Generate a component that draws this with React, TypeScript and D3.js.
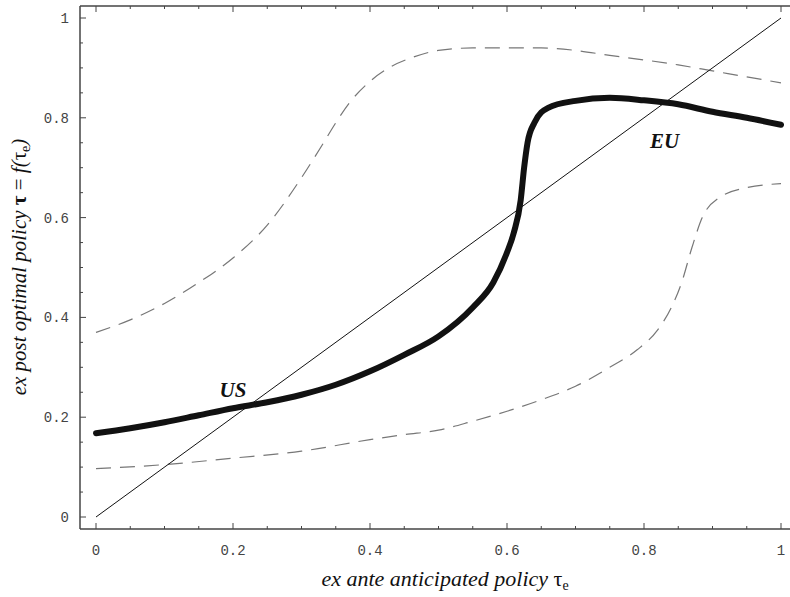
import React from 'react';
import * as d3 from 'd3';

// ---- data ----
const xTickValues = [0, 0.2, 0.4, 0.6, 0.8, 1];
const xTickLabels = ['0', '0.2', '0.4', '0.6', '0.8', '1'];
const yTickValues = [0, 0.2, 0.4, 0.6, 0.8, 1];
const yTickLabels = ['0', '0.2', '0.4', '0.6', '0.8', '1'];
const minorTicks = [0, 0.05, 0.1, 0.15, 0.2, 0.25, 0.3, 0.35, 0.4, 0.45, 0.5, 0.55, 0.6, 0.65, 0.7, 0.75, 0.8, 0.85, 0.9, 0.95, 1];

const diagX = [0, 1];
const diagY = [0, 1];

const mainX = [0, 0.05, 0.1, 0.15, 0.2, 0.25, 0.3, 0.35, 0.4, 0.45, 0.5, 0.55, 0.58, 0.6, 0.61, 0.62, 0.625, 0.63, 0.64, 0.66, 0.7, 0.75, 0.8, 0.85, 0.9, 0.95, 1];
const mainY = [0.168, 0.178, 0.19, 0.204, 0.218, 0.23, 0.245, 0.265, 0.292, 0.325, 0.362, 0.42, 0.47, 0.53, 0.57, 0.635, 0.7, 0.75, 0.79, 0.82, 0.834, 0.84, 0.835, 0.827, 0.812, 0.8, 0.786];

const upperX = [0, 0.05, 0.1, 0.15, 0.2, 0.25, 0.3, 0.33, 0.35, 0.37, 0.4, 0.43, 0.46, 0.5, 0.55, 0.6, 0.65, 0.7, 0.75, 0.8, 0.85, 0.9, 0.95, 1];
const upperY = [0.37, 0.395, 0.428, 0.47, 0.519, 0.585, 0.68, 0.745, 0.79, 0.83, 0.873, 0.902, 0.92, 0.935, 0.94, 0.94, 0.94, 0.935, 0.925, 0.916, 0.906, 0.894, 0.882, 0.87];

const lowerX = [0, 0.1, 0.2, 0.3, 0.4, 0.45, 0.5, 0.55, 0.6, 0.65, 0.7, 0.75, 0.79, 0.82, 0.84, 0.855, 0.87, 0.885, 0.91, 0.95, 1];
const lowerY = [0.097, 0.105, 0.118, 0.132, 0.155, 0.165, 0.174, 0.192, 0.212, 0.235, 0.262, 0.3, 0.335, 0.375, 0.42, 0.47, 0.54, 0.6, 0.64, 0.66, 0.668];

const annotations = [
  { text: 'US', x: 0.2, y: 0.24 },
  { text: 'EU', x: 0.83, y: 0.74 },
];

const W = 790;
const H = 597;

export default function App() {
  const x = d3.scaleLinear().domain([0, 1]).range([96, 781]);
  const y = d3.scaleLinear().domain([0, 1]).range([517, 18]);
  const frameL = 80, frameB = 529, frameT = 6, frameR = 792;

  const line = d3
    .line<[number, number]>()
    .x((d) => x(d[0]))
    .y((d) => y(d[1]))
    .curve(d3.curveMonotoneX);

  const zip = (a: number[], b: number[]) => a.map((v, i) => [v, b[i]] as [number, number]);

  const isMajor = (v: number) => Math.abs(v * 5 - Math.round(v * 5)) < 1e-6;

  return (
    <svg width={W} height={H} style={{ position: 'absolute', left: 0, top: 0, background: '#fff' }}>
      {/* frame */}
      <g stroke="#444" strokeWidth={1.5} fill="none">
        <line x1={frameL} y1={frameT} x2={frameL} y2={frameB} />
        <line x1={frameL} y1={frameB} x2={frameR} y2={frameB} />
        <line x1={frameL} y1={frameT} x2={frameR} y2={frameT} />
      </g>
      {/* ticks */}
      <g stroke="#444" strokeWidth={1}>
        {minorTicks.map((t) => {
          const len = isMajor(t) ? 6 : 3;
          return (
            <g key={'t' + t}>
              <line x1={x(t)} x2={x(t)} y1={frameB} y2={frameB - len} />
              <line x1={x(t)} x2={x(t)} y1={frameT} y2={frameT + len} />
              <line x1={frameL} x2={frameL + len} y1={y(t)} y2={y(t)} />
            </g>
          );
        })}
      </g>
      {/* tick labels */}
      <g fontFamily="'Liberation Mono', monospace" fontSize={14} fill="#444">
        {xTickValues.map((t, i) => (
          <text key={'xl' + i} x={x(t)} y={555} textAnchor="middle">
            {xTickLabels[i]}
          </text>
        ))}
        {yTickValues.map((t, i) => (
          <text key={'yl' + i} x={69} y={y(t)} dy="0.35em" textAnchor="end">
            {yTickLabels[i]}
          </text>
        ))}
      </g>
      {/* curves */}
      <path d={line(zip(upperX, upperY)) || ''} fill="none" stroke="#777" strokeWidth={1.2} strokeDasharray="15 9" />
      <path d={line(zip(lowerX, lowerY)) || ''} fill="none" stroke="#777" strokeWidth={1.2} strokeDasharray="15 9" />
      <path d={line(zip(diagX, diagY)) || ''} fill="none" stroke="#111" strokeWidth={1} />
      <path
        d={line(zip(mainX, mainY)) || ''}
        fill="none"
        stroke="#111"
        strokeWidth={6}
        strokeLinecap="round"
        strokeLinejoin="round"
      />
      {/* annotations */}
      <g fontFamily="'Liberation Serif', 'DejaVu Serif', serif" fontStyle="italic" fontWeight="bold" fontSize={21} fill="#111">
        {annotations.map((a) => (
          <text key={a.text} x={x(a.x)} y={y(a.y)} textAnchor="middle">
            {a.text}
          </text>
        ))}
      </g>
      {/* axis titles */}
      <text
        x={445}
        y={586}
        textAnchor="middle"
        fontFamily="'Liberation Serif', serif"
        fontStyle="italic"
        fontSize={22}
        fill="#111"
      >
        ex ante anticipated policy <tspan fontStyle="normal">τ</tspan>
        <tspan fontStyle="normal" fontSize={14} dy={4}>e</tspan>
      </text>
      <text
        transform="translate(26,267) rotate(-90)"
        textAnchor="middle"
        fontFamily="'Liberation Serif', serif"
        fontStyle="italic"
        fontSize={21}
        fill="#111"
      >
        ex post optimal policy <tspan fontStyle="normal" fontWeight="bold">τ</tspan>
        <tspan fontStyle="normal"> = </tspan>f(
        <tspan fontStyle="normal">τ</tspan>
        <tspan fontStyle="normal" fontSize={14} dy={4}>e</tspan>
        <tspan dy={-4}>)</tspan>
      </text>
    </svg>
  );
}
